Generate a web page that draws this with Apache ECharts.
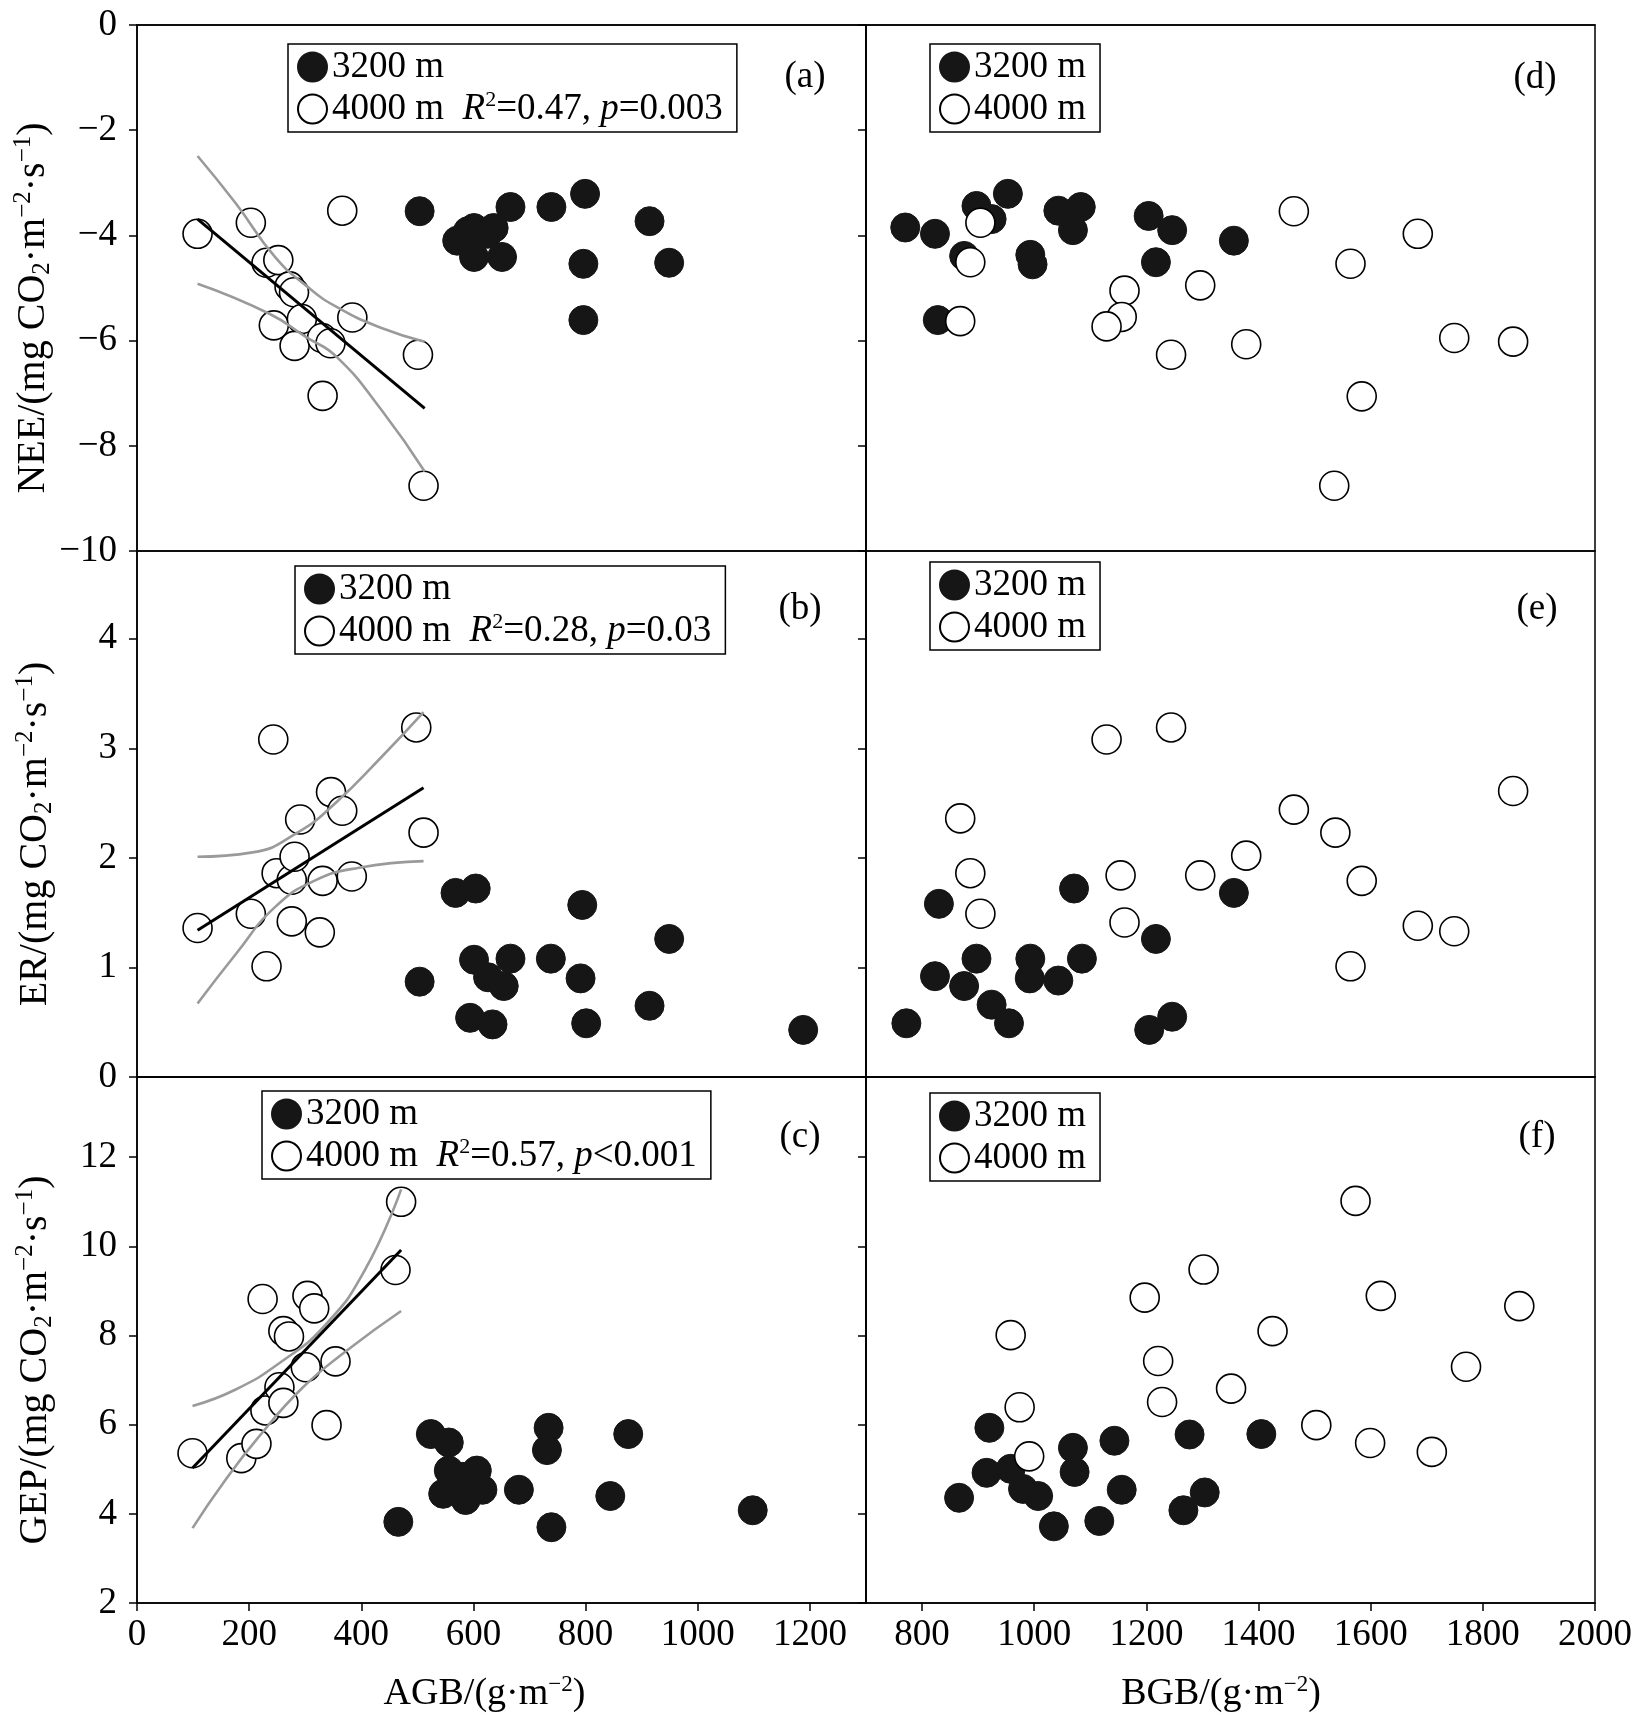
<!DOCTYPE html>
<html>
<head>
<meta charset="utf-8">
<script src="https://cdn.jsdelivr.net/npm/echarts@6/dist/echarts.min.js"></script>
<style>
  html, body { margin: 0; padding: 0; background: #fff; }
  #chart { width: 1647px; height: 1724px; }
</style>
</head>
<body>
<div id="chart"></div>
<script>
// ---------------- DATA ----------------
// Panel (a): AGB vs NEE
const neeAgb3200 = [[504,-3.54],[571,-4.10],[590,-3.92],[601,-3.86],[601,-4.41],[625,-3.97],[636,-3.86],[651,-4.41],[666,-3.46],[739,-3.46],[799,-3.21],[796,-4.54],[796,-5.61],[914,-3.73],[949,-4.52]];
const neeAgb4000 = [[108,-3.97],[203,-3.76],[231,-4.52],[252,-4.47],[272,-4.97],[280,-5.08],[366,-3.53],[244,-5.71],[294,-5.59],[281,-6.10],[330,-5.95],[345,-6.05],[384,-5.56],[501,-6.27],[331,-7.05],[511,-8.76]];
const neeAgbFit = [[108,-3.69],[513,-7.29]];
const neeAgbUpper = [[108,-2.49],[176,-3.39],[246,-4.41],[301,-4.95],[356,-5.36],[436,-5.76],[513,-6.02]];
const neeAgbLower = [[108,-4.92],[236,-5.49],[301,-5.93],[356,-6.31],[436,-7.32],[513,-8.49]];
// Panel (d): BGB vs NEE
const neeBgb3200 = [[770,-3.85],[823,-3.97],[897,-3.44],[924,-3.69],[953,-3.21],[875,-4.39],[993,-4.37],[997,-4.55],[1043,-3.53],[1083,-3.46],[1069,-3.90],[1204,-3.63],[1246,-3.90],[1217,-4.51],[1356,-4.10],[828,-5.61]];
const neeBgb4000 = [[904,-3.76],[886,-4.51],[868,-5.63],[1161,-5.05],[1156,-5.55],[1129,-5.73],[1296,-4.95],[1244,-6.27],[1378,-6.07],[1463,-3.54],[1564,-4.54],[1684,-3.97],[1584,-7.06],[1749,-5.95],[1854,-6.02],[1535,-8.76]];
// Panel (b): AGB vs ER
const erAgb3200 = [[504,0.87],[568,1.68],[604,1.72],[601,1.07],[626,0.91],[654,0.83],[666,1.08],[594,0.54],[634,0.48],[738,1.08],[794,1.57],[791,0.90],[801,0.49],[914,0.65],[949,1.26],[1188,0.43]];
const erAgb4000 = [[108,1.36],[203,1.49],[243,3.08],[231,1.01],[249,1.86],[276,1.80],[281,2.01],[291,2.35],[276,1.42],[326,1.32],[331,1.79],[346,2.60],[366,2.43],[383,1.83],[498,3.19],[511,2.23]];
const erAgbFit = [[108,1.34],[511,2.64]];
const erAgbUpper = [[108,2.01],[206,2.05],[286,2.23],[356,2.51],[436,2.92],[511,3.33]];
const erAgbLower = [[108,0.67],[176,1.12],[246,1.55],[316,1.79],[396,1.91],[511,1.97]];
// Panel (e): BGB vs ER
const erBgb3200 = [[772,0.49],[823,0.92],[830,1.58],[875,0.83],[897,1.08],[924,0.66],[955,0.49],[993,1.08],[992,0.90],[1043,0.88],[1085,1.08],[1071,1.72],[1217,1.26],[1205,0.43],[1246,0.55],[1356,1.68]];
const erBgb4000 = [[1129,3.08],[1244,3.19],[868,2.36],[886,1.86],[904,1.49],[1154,1.84],[1161,1.41],[1296,1.84],[1378,2.02],[1463,2.44],[1537,2.23],[1584,1.79],[1684,1.38],[1749,1.33],[1564,1.01],[1854,2.61]];
// Panel (c): AGB vs GEP
const gepAgb3200 = [[466,3.82],[524,5.79],[556,5.60],[546,4.45],[556,4.97],[586,4.31],[581,4.83],[606,4.97],[616,4.54],[681,4.54],[734,5.93],[731,5.43],[739,3.70],[844,4.40],[876,5.79],[1098,4.08]];
const gepAgb4000 = [[99,5.36],[186,5.25],[213,5.57],[224,8.82],[229,6.32],[254,6.84],[261,6.49],[261,8.10],[271,7.98],[304,8.89],[316,8.61],[301,7.29],[354,7.42],[338,5.99],[461,9.47],[471,11.0]];
const gepAgbFit = [[99,5.03],[471,9.92]];
const gepAgbUpper = [[99,6.42],[176,6.79],[256,7.40],[336,8.24],[406,9.46],[471,11.28]];
const gepAgbLower = [[99,3.68],[156,4.73],[216,5.71],[296,6.84],[376,7.68],[471,8.55]];
// Panel (f): BGB vs GEP
const gepBgb3200 = [[866,4.36],[920,5.93],[915,4.92],[958,5.01],[980,4.56],[1007,4.40],[1035,3.72],[1069,5.48],[1072,4.94],[1116,3.84],[1143,5.64],[1156,4.54],[1266,4.08],[1304,4.48],[1277,5.78],[1405,5.79]];
const gepBgb4000 = [[958,8.01],[974,6.39],[991,5.29],[1197,8.85],[1221,7.43],[1228,6.51],[1302,9.48],[1351,6.81],[1425,8.10],[1503,5.99],[1573,11.02],[1618,8.89],[1599,5.59],[1709,5.39],[1770,7.30],[1865,8.66]];

// Ticks
const agbTicks = [0, 200, 400, 600, 800, 1000, 1200];
const bgbTicks = [800, 1000, 1200, 1400, 1600, 1800, 2000];
const neeTicks = [-10, -8, -6, -4, -2, 0];
const erTicks = [0, 1, 2, 3, 4];
const gepTicks = [2, 4, 6, 8, 10, 12];

// Text
const seriesNames = ['3200 m', '4000 m'];
const statR2 = ['0.47', '0.28', '0.57'];
const statP = ['=0.003', '=0.03', '<0.001'];
const panelLabels = ['(a)', '(b)', '(c)', '(d)', '(e)', '(f)'];
const yNames = ['NEE', 'ER', 'GEP'];
const xNames = ['AGB', 'BGB'];

// ---------------- LAYOUT ----------------
const FONT = '"Liberation Serif", "Times New Roman", serif';
const rowTops = [25, 551, 1077];
const rowH = 526;
const colLefts = [137, 866];
const colW = 729;
const legendPos = [[288, 44], [295, 566], [262, 1091], [930, 44], [930, 562], [930, 1093]];
const labelPos = [[805, 77], [800, 609], [800, 1137], [1535, 78], [1537, 609], [1537, 1137]];

const rows = [
  { yMin: -10, yMax: 0, yTicks: neeTicks, L: [neeAgb3200, neeAgb4000], R: [neeBgb3200, neeBgb4000], fit: [neeAgbFit, neeAgbUpper, neeAgbLower] },
  { yMin: 0, yMax: 4.8, yTicks: erTicks, L: [erAgb3200, erAgb4000], R: [erBgb3200, erBgb4000], fit: [erAgbFit, erAgbUpper, erAgbLower] },
  { yMin: 2, yMax: 13.8, yTicks: gepTicks, L: [gepAgb3200, gepAgb4000], R: [gepBgb3200, gepBgb4000], fit: [gepAgbFit, gepAgbUpper, gepAgbLower] }
];

const fmtNum = v => (v < 0 ? '\u2212' + Math.abs(v) : String(v));
const black = '#000';
const lineW = 1.5;

const grids = [], xAxes = [], yAxes = [], series = [], legends = [], graphics = [];

const richX = {
  sup: { fontFamily: FONT, fontSize: 23, verticalAlign: 'top', color: black }
};
const richY = {
  sub: { fontFamily: FONT, fontSize: 25, verticalAlign: 'bottom', color: black },
  sup: { fontFamily: FONT, fontSize: 25, verticalAlign: 'top', color: black }
};

for (let c = 0; c < 2; c++) {
  for (let r = 0; r < 3; r++) {
    const gi = c * 3 + r;
    const row = rows[r];
    grids.push({
      left: colLefts[c], top: rowTops[r], width: colW, height: rowH,
      show: true, borderColor: black, borderWidth: lineW, backgroundColor: 'transparent'
    });
    const isBottom = r === 2;
    const xTicks = c === 0 ? agbTicks : bgbTicks;
    const xa = {
      type: 'value', gridIndex: gi,
      min: c === 0 ? 0 : 700, max: c === 0 ? 1300 : 2000,
      splitLine: { show: false },
      axisLine: { show: true, lineStyle: { color: black, width: lineW } },
      axisTick: { show: isBottom, inside: false, length: 8, lineStyle: { color: black, width: lineW }, customValues: xTicks },
      axisLabel: { show: isBottom, customValues: xTicks, formatter: fmtNum, fontFamily: FONT, fontSize: 37, color: black, margin: 14 }
    };
    if (isBottom) {
      xa.name = xNames[c] + '/(g\u00b7m{sup|\u22122})';
      xa.nameLocation = 'middle';
      xa.nameGap = 70;
      xa.nameTextStyle = { fontFamily: FONT, fontSize: 38, color: black, lineHeight: 42, rich: richX,
        padding: c === 0 ? [0, 34, 0, 0] : [0, 19, 0, 0] };
    }
    xAxes.push(xa);
    const ya = {
      type: 'value', gridIndex: gi, min: row.yMin, max: row.yMax,
      splitLine: { show: false },
      axisLine: { show: true, lineStyle: { color: black, width: lineW } },
      axisTick: { show: true, inside: false, length: 8, lineStyle: { color: black, width: lineW }, customValues: row.yTicks },
      axisLabel: { show: c === 0, customValues: row.yTicks, formatter: fmtNum, fontFamily: FONT, fontSize: 37, color: black, margin: 20 }
    };
    if (c === 0) {
      ya.name = yNames[r] + '/(mg CO{sub|2}\u00b7m{sup|\u22122}\u00b7s{sup|\u22121})';
      ya.nameLocation = 'middle';
      ya.nameRotate = 90;
      ya.nameGap = 80;
      ya.nameTextStyle = { fontFamily: FONT, fontSize: 40, color: black, lineHeight: 44, rich: richY,
        padding: [0, 40, 0, 0] };
    }
    yAxes.push(ya);

    const data = c === 0 ? row.L : row.R;
    series.push({
      name: seriesNames[0], type: 'scatter', xAxisIndex: gi, yAxisIndex: gi, z: 2,
      symbol: 'circle', symbolSize: 29,
      itemStyle: { color: '#161616', borderColor: '#161616', borderWidth: 1, opacity: 1 },
      data: data[0]
    });
    series.push({
      name: seriesNames[1], type: 'scatter', xAxisIndex: gi, yAxisIndex: gi, z: 3,
      symbol: 'circle', symbolSize: 29,
      itemStyle: { color: '#ffffff', borderColor: '#000', borderWidth: 1.6, opacity: 1 },
      data: data[1]
    });
    if (c === 0) {
      const f = row.fit;
      series.push({ name: 'band-up-' + r, type: 'line', xAxisIndex: gi, yAxisIndex: gi, z: 4, smooth: true, showSymbol: false,
        lineStyle: { color: '#9a9a9a', width: 2.6 }, data: f[1], silent: true });
      series.push({ name: 'band-lo-' + r, type: 'line', xAxisIndex: gi, yAxisIndex: gi, z: 4, smooth: true, showSymbol: false,
        lineStyle: { color: '#9a9a9a', width: 2.6 }, data: f[2], silent: true });
      series.push({ name: 'fit-' + r, type: 'line', xAxisIndex: gi, yAxisIndex: gi, z: 5, showSymbol: false,
        lineStyle: { color: '#000', width: 3 }, data: f[0], silent: true });
    }

    legends.push({
      left: legendPos[gi][0], top: legendPos[gi][1], orient: 'vertical',
      data: seriesNames, icon: 'circle', itemWidth: 29, itemHeight: 29, itemGap: 2,
      padding: [3, 14, 3, 9], borderColor: black, borderWidth: lineW, backgroundColor: '#fff',
      selectedMode: false,
      textStyle: {
        fontFamily: FONT, fontSize: 37, color: black, lineHeight: 40,
        rich: {
          i: { fontFamily: FONT, fontSize: 37, fontStyle: 'italic', color: black, lineHeight: 40 },
          s: { fontFamily: FONT, fontSize: 22, color: black, verticalAlign: 'top' }
        }
      },
      formatter: (function (cc, rr) {
        return function (name) {
          if (cc === 0 && name === seriesNames[1]) {
            return name + '  {i|R}{s|2}=' + statR2[rr] + ', {i|p}' + statP[rr];
          }
          return name;
        };
      })(c, r)
    });

    graphics.push({
      type: 'text', x: labelPos[gi][0], y: labelPos[gi][1], z: 10,
      style: { text: panelLabels[gi], fontFamily: FONT, fontSize: 37, fill: black, align: 'center', verticalAlign: 'middle' }
    });
  }
}

const chart = echarts.init(document.getElementById('chart'), null, { renderer: 'canvas' });
chart.setOption({
  backgroundColor: '#fff',
  animation: false,
  textStyle: { fontFamily: FONT },
  grid: grids,
  xAxis: xAxes,
  yAxis: yAxes,
  legend: legends,
  graphic: graphics,
  series: series
});
</script>
</body>
</html>
